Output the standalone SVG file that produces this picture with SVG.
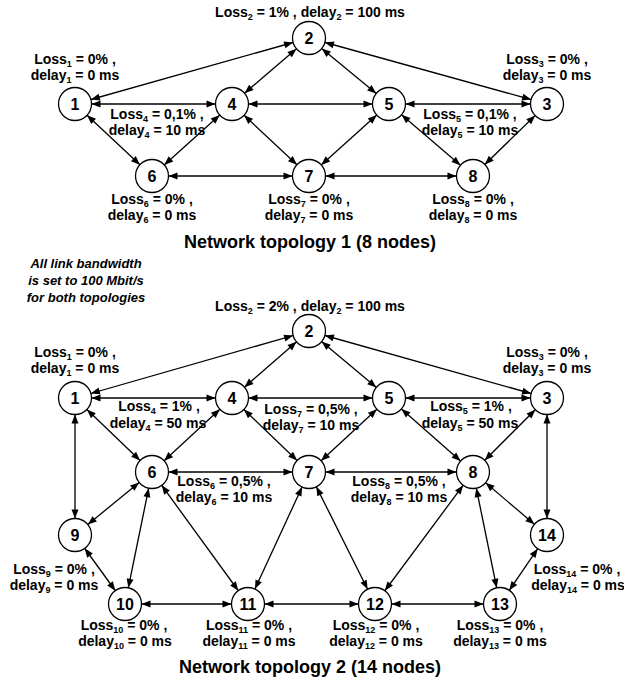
<svg xmlns="http://www.w3.org/2000/svg" width="624" height="686" viewBox="0 0 624 686">
<style>
.e{stroke:#000;stroke-width:1.3;fill:none;marker-start:url(#a);marker-end:url(#a)}
.n circle{fill:#fff;stroke:#000;stroke-width:1.3}
.num{font-family:"Liberation Sans",Arial,sans-serif;font-weight:bold;font-size:16px;text-anchor:middle;fill:#000}
.l{font-family:"Liberation Sans",Arial,sans-serif;font-weight:bold;font-size:14px;text-anchor:middle;fill:#000}
.s{font-size:9px}
.t{font-family:"Liberation Sans",Arial,sans-serif;font-weight:bold;font-size:18px;text-anchor:middle;fill:#000}
.i{font-family:"Liberation Sans",Arial,sans-serif;font-weight:bold;font-style:italic;font-size:13px;text-anchor:middle;fill:#000}
</style>
<defs>
<marker id="a" markerUnits="userSpaceOnUse" markerWidth="30" markerHeight="8" refX="25.5" refY="3.5" orient="auto-start-reverse" overflow="visible">
<path d="M0,0 L9,3.5 L0,7 z" fill="#000"/>
</marker>
</defs>
<rect width="624" height="686" fill="#fff"/>

<g id="connectors-1">
<line class="e" x1="75" y1="104" x2="309" y2="38"/>
<line class="e" x1="547" y1="104" x2="309" y2="38"/>
<line class="e" x1="232" y1="104" x2="309" y2="38"/>
<line class="e" x1="389" y1="104" x2="309" y2="38"/>
<line class="e" x1="75" y1="104" x2="232" y2="104"/>
<line class="e" x1="232" y1="104" x2="389" y2="104"/>
<line class="e" x1="389" y1="104" x2="547" y2="104"/>
<line class="e" x1="75" y1="104" x2="152" y2="176"/>
<line class="e" x1="232" y1="104" x2="152" y2="176"/>
<line class="e" x1="232" y1="104" x2="309" y2="176"/>
<line class="e" x1="389" y1="104" x2="309" y2="176"/>
<line class="e" x1="389" y1="104" x2="473" y2="176"/>
<line class="e" x1="547" y1="104" x2="473" y2="176"/>
<line class="e" x1="152" y1="176" x2="309" y2="176"/>
<line class="e" x1="309" y1="176" x2="473" y2="176"/>
</g>

<g id="t1-n1" class="n"><circle cx="75" cy="104" r="16.5"/><text class="num" x="75" y="110">1</text>
<text class="l" x="75" y="64">Loss<tspan class="s" dy="3">1</tspan><tspan dy="-3"> = 0% ,</tspan></text>
<text class="l" x="75" y="80">delay<tspan class="s" dy="3">1</tspan><tspan dy="-3"> = 0 ms</tspan></text></g>
<g id="t1-n2" class="n"><circle cx="309" cy="38" r="16.5"/><text class="num" x="309" y="44">2</text>
<text class="l" x="310" y="17">Loss<tspan class="s" dy="3">2</tspan><tspan dy="-3"> = 1% , delay</tspan><tspan class="s" dy="3">2</tspan><tspan dy="-3"> = 100 ms</tspan></text></g>
<g id="t1-n3" class="n"><circle cx="547" cy="104" r="16.5"/><text class="num" x="547" y="110">3</text>
<text class="l" x="547" y="64">Loss<tspan class="s" dy="3">3</tspan><tspan dy="-3"> = 0% ,</tspan></text>
<text class="l" x="547" y="80">delay<tspan class="s" dy="3">3</tspan><tspan dy="-3"> = 0 ms</tspan></text></g>
<g id="t1-n4" class="n"><circle cx="232" cy="104" r="16.5"/><text class="num" x="232" y="110">4</text>
<text class="l" x="157" y="119">Loss<tspan class="s" dy="3">4</tspan><tspan dy="-3"> = 0,1% ,</tspan></text>
<text class="l" x="157" y="135">delay<tspan class="s" dy="3">4</tspan><tspan dy="-3"> = 10 ms</tspan></text></g>
<g id="t1-n5" class="n"><circle cx="389" cy="104" r="16.5"/><text class="num" x="389" y="110">5</text>
<text class="l" x="470" y="119">Loss<tspan class="s" dy="3">5</tspan><tspan dy="-3"> = 0,1% ,</tspan></text>
<text class="l" x="470" y="135">delay<tspan class="s" dy="3">5</tspan><tspan dy="-3"> = 10 ms</tspan></text></g>
<g id="t1-n6" class="n"><circle cx="152" cy="176" r="16.5"/><text class="num" x="152" y="182">6</text>
<text class="l" x="152" y="204">Loss<tspan class="s" dy="3">6</tspan><tspan dy="-3"> = 0% ,</tspan></text>
<text class="l" x="152" y="220">delay<tspan class="s" dy="3">6</tspan><tspan dy="-3"> = 0 ms</tspan></text></g>
<g id="t1-n7" class="n"><circle cx="309" cy="176" r="16.5"/><text class="num" x="309" y="182">7</text>
<text class="l" x="309" y="204">Loss<tspan class="s" dy="3">7</tspan><tspan dy="-3"> = 0% ,</tspan></text>
<text class="l" x="309" y="220">delay<tspan class="s" dy="3">7</tspan><tspan dy="-3"> = 0 ms</tspan></text></g>
<g id="t1-n8" class="n"><circle cx="473" cy="176" r="16.5"/><text class="num" x="473" y="182">8</text>
<text class="l" x="473" y="204">Loss<tspan class="s" dy="3">8</tspan><tspan dy="-3"> = 0% ,</tspan></text>
<text class="l" x="473" y="220">delay<tspan class="s" dy="3">8</tspan><tspan dy="-3"> = 0 ms</tspan></text></g>

<text class="t" x="310" y="248">Network topology 1 (8 nodes)</text>
<text class="i" x="86" y="268">All link bandwidth</text>
<text class="i" x="86" y="285">is set to 100 Mbit/s</text>
<text class="i" x="86" y="302">for both topologies</text>

<g id="connectors-2">
<line class="e" x1="75" y1="398" x2="309" y2="331"/>
<line class="e" x1="547" y1="398" x2="309" y2="331"/>
<line class="e" x1="232" y1="398" x2="309" y2="331"/>
<line class="e" x1="389" y1="398" x2="309" y2="331"/>
<line class="e" x1="75" y1="398" x2="232" y2="398"/>
<line class="e" x1="232" y1="398" x2="389" y2="398"/>
<line class="e" x1="389" y1="398" x2="547" y2="398"/>
<line class="e" x1="75" y1="398" x2="152" y2="472"/>
<line class="e" x1="232" y1="398" x2="152" y2="472"/>
<line class="e" x1="232" y1="398" x2="309" y2="472"/>
<line class="e" x1="389" y1="398" x2="309" y2="472"/>
<line class="e" x1="389" y1="398" x2="473" y2="472"/>
<line class="e" x1="547" y1="398" x2="473" y2="472"/>
<line class="e" x1="152" y1="472" x2="309" y2="472"/>
<line class="e" x1="309" y1="472" x2="473" y2="472"/>
<line class="e" x1="75" y1="398" x2="75" y2="535"/>
<line class="e" x1="75" y1="535" x2="152" y2="472"/>
<line class="e" x1="75" y1="535" x2="125" y2="604"/>
<line class="e" x1="152" y1="472" x2="125" y2="604"/>
<line class="e" x1="152" y1="472" x2="248" y2="604"/>
<line class="e" x1="309" y1="472" x2="248" y2="604"/>
<line class="e" x1="309" y1="472" x2="375" y2="604"/>
<line class="e" x1="473" y1="472" x2="375" y2="604"/>
<line class="e" x1="473" y1="472" x2="500" y2="604"/>
<line class="e" x1="473" y1="472" x2="547" y2="535"/>
<line class="e" x1="547" y1="398" x2="547" y2="535"/>
<line class="e" x1="547" y1="535" x2="500" y2="604"/>
<line class="e" x1="125" y1="604" x2="248" y2="604"/>
<line class="e" x1="248" y1="604" x2="375" y2="604"/>
<line class="e" x1="375" y1="604" x2="500" y2="604"/>
</g>

<g id="t2-n1" class="n"><circle cx="75" cy="398" r="16.5"/><text class="num" x="75" y="404">1</text>
<text class="l" x="75" y="357">Loss<tspan class="s" dy="3">1</tspan><tspan dy="-3"> = 0% ,</tspan></text>
<text class="l" x="75" y="373">delay<tspan class="s" dy="3">1</tspan><tspan dy="-3"> = 0 ms</tspan></text></g>
<g id="t2-n2" class="n"><circle cx="309" cy="331" r="16.5"/><text class="num" x="309" y="337">2</text>
<text class="l" x="310" y="311">Loss<tspan class="s" dy="3">2</tspan><tspan dy="-3"> = 2% , delay</tspan><tspan class="s" dy="3">2</tspan><tspan dy="-3"> = 100 ms</tspan></text></g>
<g id="t2-n3" class="n"><circle cx="547" cy="398" r="16.5"/><text class="num" x="547" y="404">3</text>
<text class="l" x="547" y="357">Loss<tspan class="s" dy="3">3</tspan><tspan dy="-3"> = 0% ,</tspan></text>
<text class="l" x="547" y="373">delay<tspan class="s" dy="3">3</tspan><tspan dy="-3"> = 0 ms</tspan></text></g>
<g id="t2-n4" class="n"><circle cx="232" cy="398" r="16.5"/><text class="num" x="232" y="404">4</text>
<text class="l" x="159" y="411">Loss<tspan class="s" dy="3">4</tspan><tspan dy="-3"> = 1% ,</tspan></text>
<text class="l" x="158" y="428">delay<tspan class="s" dy="3">4</tspan><tspan dy="-3"> = 50 ms</tspan></text></g>
<g id="t2-n5" class="n"><circle cx="389" cy="398" r="16.5"/><text class="num" x="389" y="404">5</text>
<text class="l" x="471" y="411">Loss<tspan class="s" dy="3">5</tspan><tspan dy="-3"> = 1% ,</tspan></text>
<text class="l" x="470" y="428">delay<tspan class="s" dy="3">5</tspan><tspan dy="-3"> = 50 ms</tspan></text></g>
<g id="t2-n6" class="n"><circle cx="152" cy="472" r="16.5"/><text class="num" x="152" y="478">6</text>
<text class="l" x="224" y="486">Loss<tspan class="s" dy="3">6</tspan><tspan dy="-3"> = 0,5% ,</tspan></text>
<text class="l" x="224" y="502">delay<tspan class="s" dy="3">6</tspan><tspan dy="-3"> = 10 ms</tspan></text></g>
<g id="t2-n7" class="n"><circle cx="309" cy="472" r="16.5"/><text class="num" x="309" y="478">7</text>
<text class="l" x="311" y="414">Loss<tspan class="s" dy="3">7</tspan><tspan dy="-3"> = 0,5% ,</tspan></text>
<text class="l" x="311" y="430">delay<tspan class="s" dy="3">7</tspan><tspan dy="-3"> = 10 ms</tspan></text></g>
<g id="t2-n8" class="n"><circle cx="473" cy="472" r="16.5"/><text class="num" x="473" y="478">8</text>
<text class="l" x="399" y="486">Loss<tspan class="s" dy="3">8</tspan><tspan dy="-3"> = 0,5% ,</tspan></text>
<text class="l" x="399" y="502">delay<tspan class="s" dy="3">8</tspan><tspan dy="-3"> = 10 ms</tspan></text></g>
<g id="t2-n9" class="n"><circle cx="75" cy="535" r="16.5"/><text class="num" x="75" y="541">9</text>
<text class="l" x="54" y="574">Loss<tspan class="s" dy="3">9</tspan><tspan dy="-3"> = 0% ,</tspan></text>
<text class="l" x="54" y="590">delay<tspan class="s" dy="3">9</tspan><tspan dy="-3"> = 0 ms</tspan></text></g>
<g id="t2-n10" class="n"><circle cx="125" cy="604" r="16.5"/><text class="num" x="125" y="610">10</text>
<text class="l" x="124" y="630">Loss<tspan class="s" dy="3">10</tspan><tspan dy="-3"> = 0% ,</tspan></text>
<text class="l" x="125" y="646">delay<tspan class="s" dy="3">10</tspan><tspan dy="-3"> = 0 ms</tspan></text></g>
<g id="t2-n11" class="n"><circle cx="248" cy="604" r="16.5"/><text class="num" x="248" y="610">11</text>
<text class="l" x="249" y="630">Loss<tspan class="s" dy="3">11</tspan><tspan dy="-3"> = 0% ,</tspan></text>
<text class="l" x="249" y="646">delay<tspan class="s" dy="3">11</tspan><tspan dy="-3"> = 0 ms</tspan></text></g>
<g id="t2-n12" class="n"><circle cx="375" cy="604" r="16.5"/><text class="num" x="375" y="610">12</text>
<text class="l" x="376" y="630">Loss<tspan class="s" dy="3">12</tspan><tspan dy="-3"> = 0% ,</tspan></text>
<text class="l" x="376" y="646">delay<tspan class="s" dy="3">12</tspan><tspan dy="-3"> = 0 ms</tspan></text></g>
<g id="t2-n13" class="n"><circle cx="500" cy="604" r="16.5"/><text class="num" x="500" y="610">13</text>
<text class="l" x="500" y="630">Loss<tspan class="s" dy="3">13</tspan><tspan dy="-3"> = 0% ,</tspan></text>
<text class="l" x="500" y="646">delay<tspan class="s" dy="3">13</tspan><tspan dy="-3"> = 0 ms</tspan></text></g>
<g id="t2-n14" class="n"><circle cx="547" cy="535" r="16.5"/><text class="num" x="547" y="541">14</text>
<text class="l" x="577" y="574">Loss<tspan class="s" dy="3">14</tspan><tspan dy="-3"> = 0% ,</tspan></text>
<text class="l" x="578" y="590">delay<tspan class="s" dy="3">14</tspan><tspan dy="-3"> = 0 ms</tspan></text></g>

<text class="t" x="310" y="673">Network topology 2 (14 nodes)</text>
</svg>
